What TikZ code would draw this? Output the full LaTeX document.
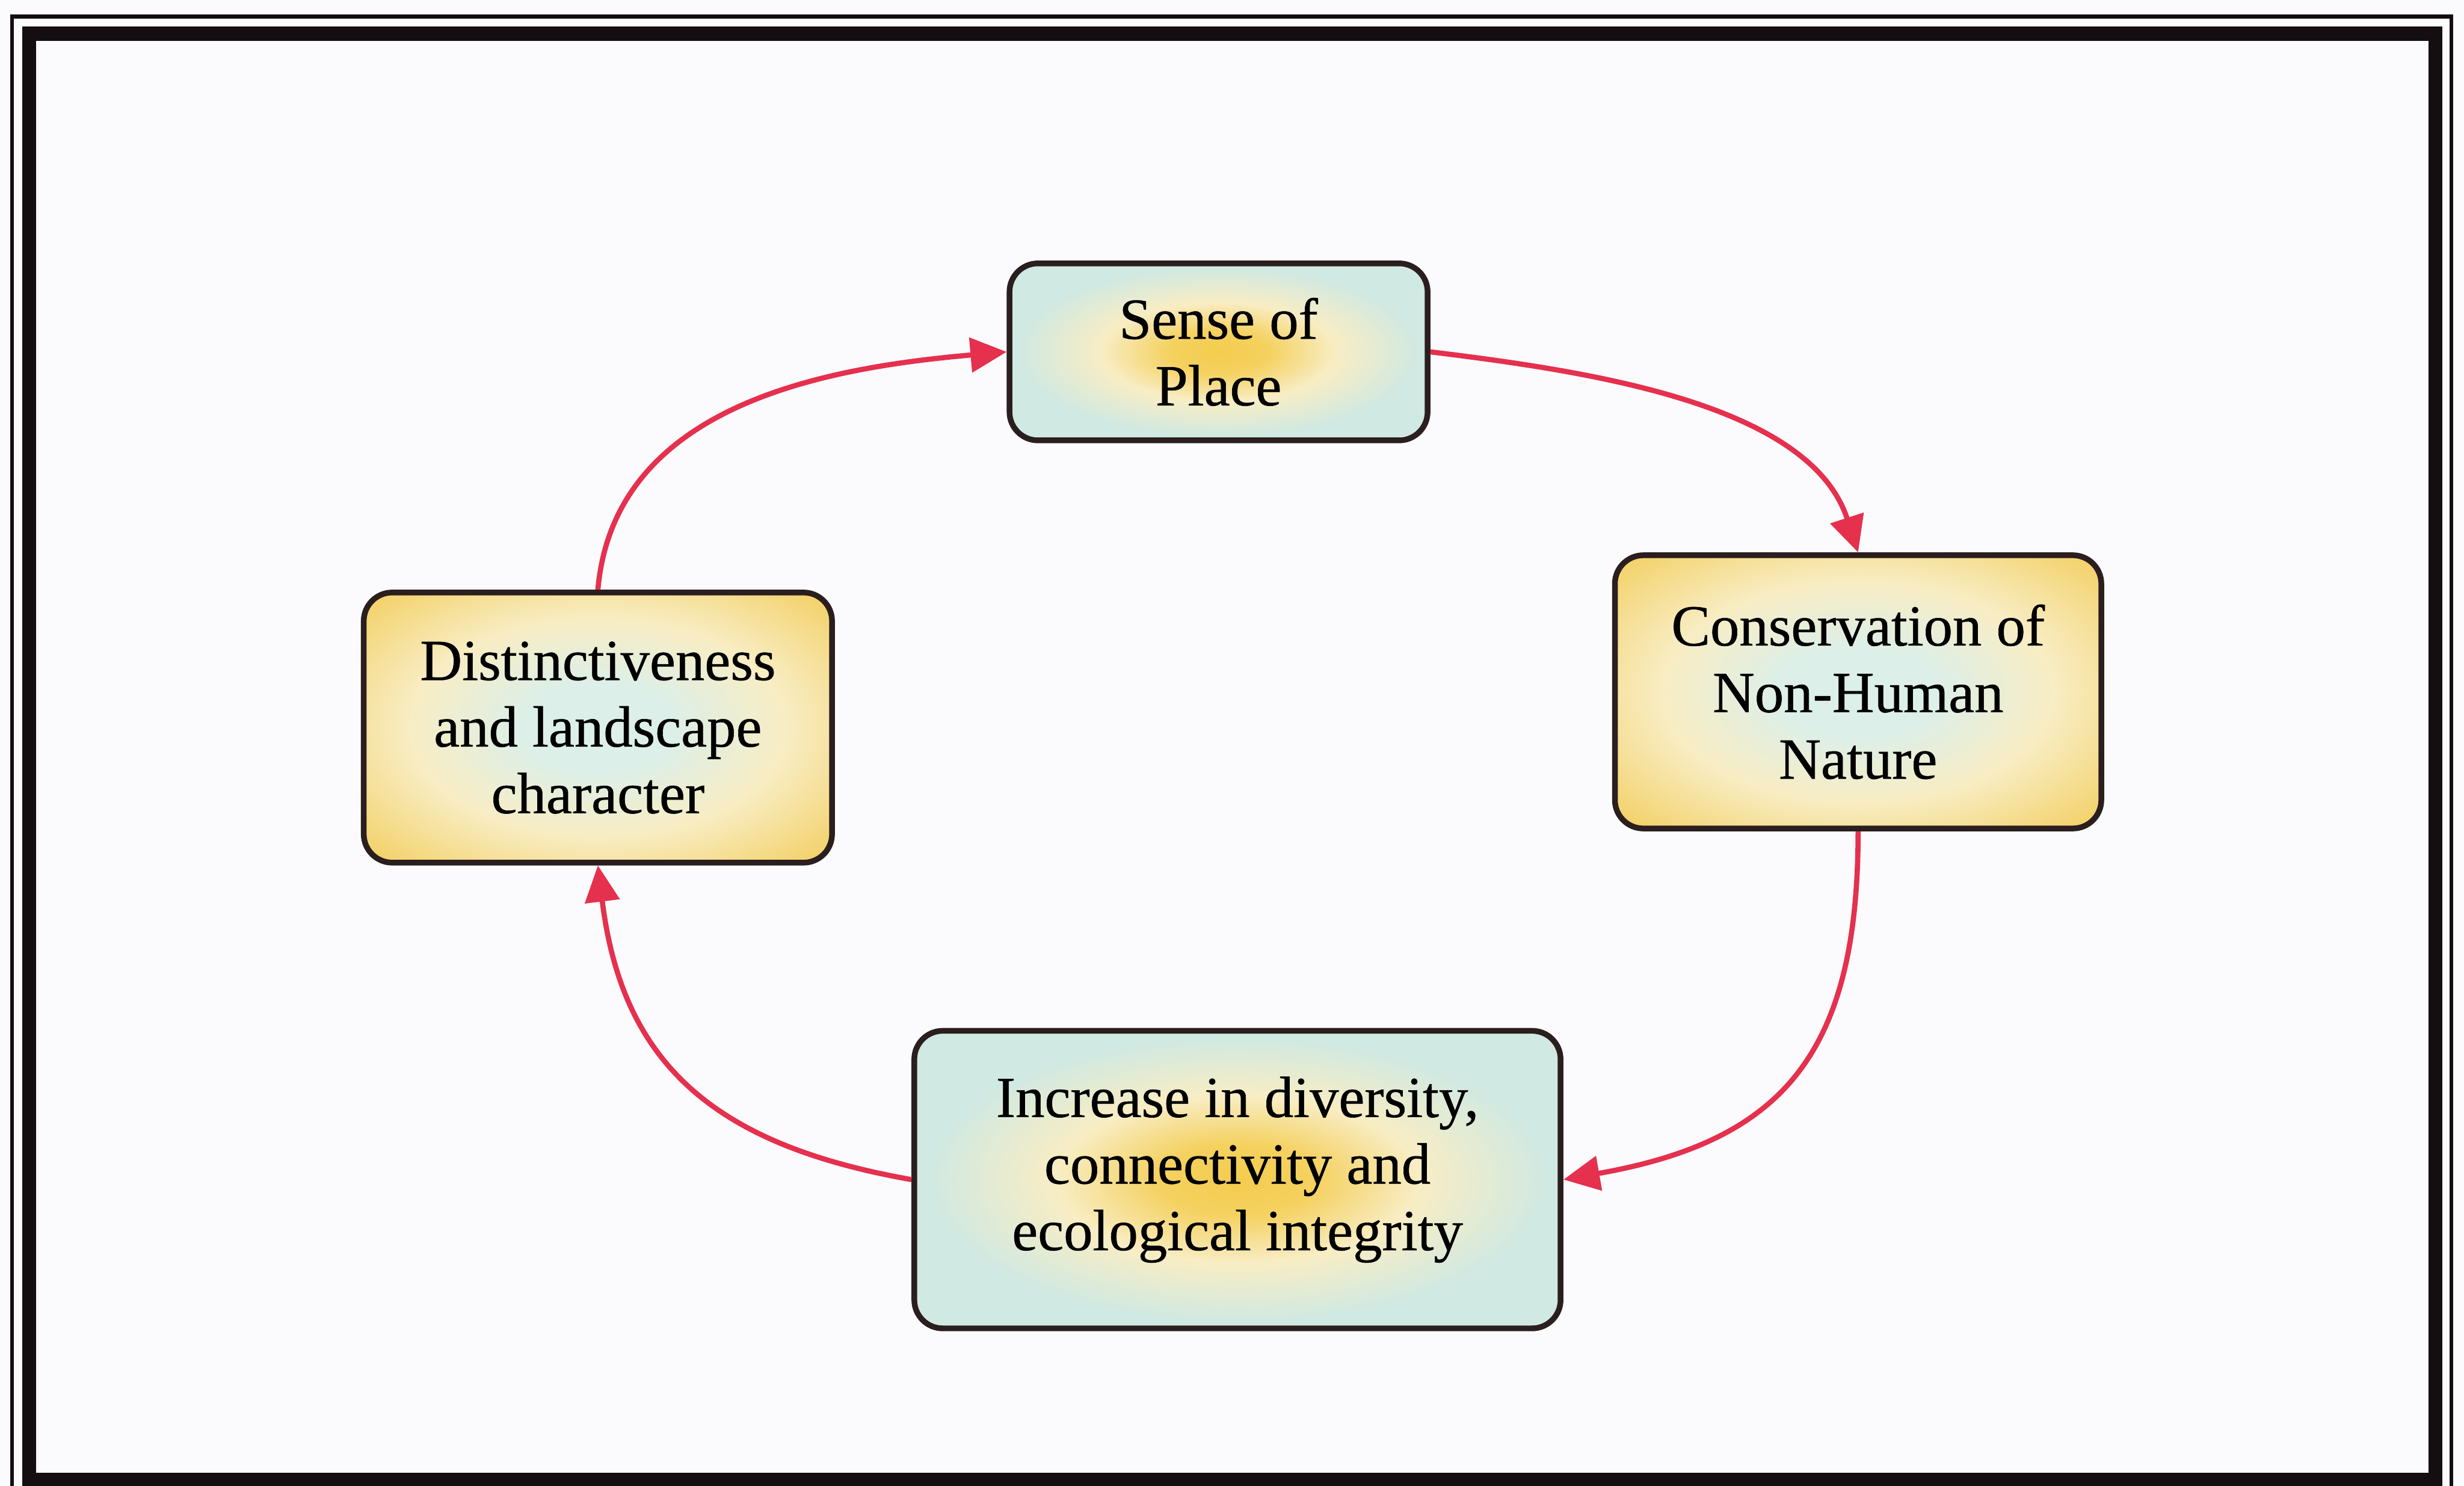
\documentclass[tikz,border=0pt]{standalone}
\usepackage{fontspec}
\setmainfont{Liberation Serif}
\newfontfamily\boxfont{Liberation Serif}[FakeBold=0.6]
\usetikzlibrary{arrows.meta}

\definecolor{paper}{HTML}{FBFBFD}
\definecolor{framebk}{HTML}{140E10}
\definecolor{edgebk}{HTML}{2A1E1E}
\definecolor{mint}{HTML}{D0E9E2}
\definecolor{mintlight}{HTML}{DCEFE9}
\definecolor{cream}{HTML}{F8EDC4}
\definecolor{sun}{HTML}{F4CC4E}
\definecolor{gold}{HTML}{F2C94E}
\definecolor{flow}{HTML}{E5304E}

% yellow glow in a mint box, and a mint glow in a gold box
\pgfdeclareradialshading{mintsun}{\pgfpoint{0bp}{0bp}}{%
  color(0bp)=(sun); color(6bp)=(sun!85!cream); color(14bp)=(cream);
  color(24bp)=(mint); color(100bp)=(mint)}
\pgfdeclareradialshading{goldmint}{\pgfpoint{0bp}{0bp}}{%
  color(0bp)=(mintlight); color(8bp)=(mintlight); color(20bp)=(cream);
  color(30bp)=(gold!55!cream); color(38bp)=(gold); color(100bp)=(gold)}

\tikzset{
  stage/.style={draw=edgebk, line width=0.11cm, rounded corners=0.55cm,
    inner sep=0pt, align=center,
    font=\boxfont\fontsize{32}{36.6}\selectfont},
  mintbox/.style={stage, shading=mintsun},
  goldbox/.style={stage, shading=goldmint},
  link/.style={draw=flow, line width=0.1cm,
    -{Triangle[length=0.7cm,width=0.66cm]}},
}

\begin{document}
\begin{tikzpicture}
  % page and double frame
  \fill[paper] (0,0) rectangle (47.62,28.71);
  \useasboundingbox (0,0) rectangle (47.62,28.71);
  \draw[framebk, line width=0.07cm] (0.23,-0.5) rectangle (47.38,28.39);
  \draw[framebk, line width=0.27cm] (0.56,0.11) rectangle (47.07,28.06);

  % the four stages of the cycle
  \node[mintbox, minimum width=8.08cm, minimum height=3.42cm] (sense)
    at (23.55,21.91) {Sense of\\Place};
  \node[goldbox, minimum width=9.05cm, minimum height=5.22cm] (dist)
    at (11.555,14.65) {Distinctiveness\\and landscape\\character};
  \node[goldbox, minimum width=9.40cm, minimum height=5.28cm] (cons)
    at (35.91,15.34) {Conservation of\\Non-Human\\Nature};
  \node[mintbox, minimum width=12.49cm, minimum height=5.75cm] (inc)
    at (23.915,5.915) {\raisebox{0.18cm}[\height][\depth]{\begin{tabular}{@{}c@{}}Increase in diversity,\\connectivity and\\ecological integrity\end{tabular}}};

  % connectors
  \draw[link] (sense.east) to[out=-7, in=108, looseness=0.85] (cons.north);
  \draw[link] (cons.south) to[out=-90, in=10, looseness=1.25] (inc.east);
  \draw[link] (inc.west) to[out=170, in=-83, looseness=1.15] (dist.south);
  \draw[link] (dist.north) to[out=85, in=185] (sense.west);
\end{tikzpicture}
\end{document}
